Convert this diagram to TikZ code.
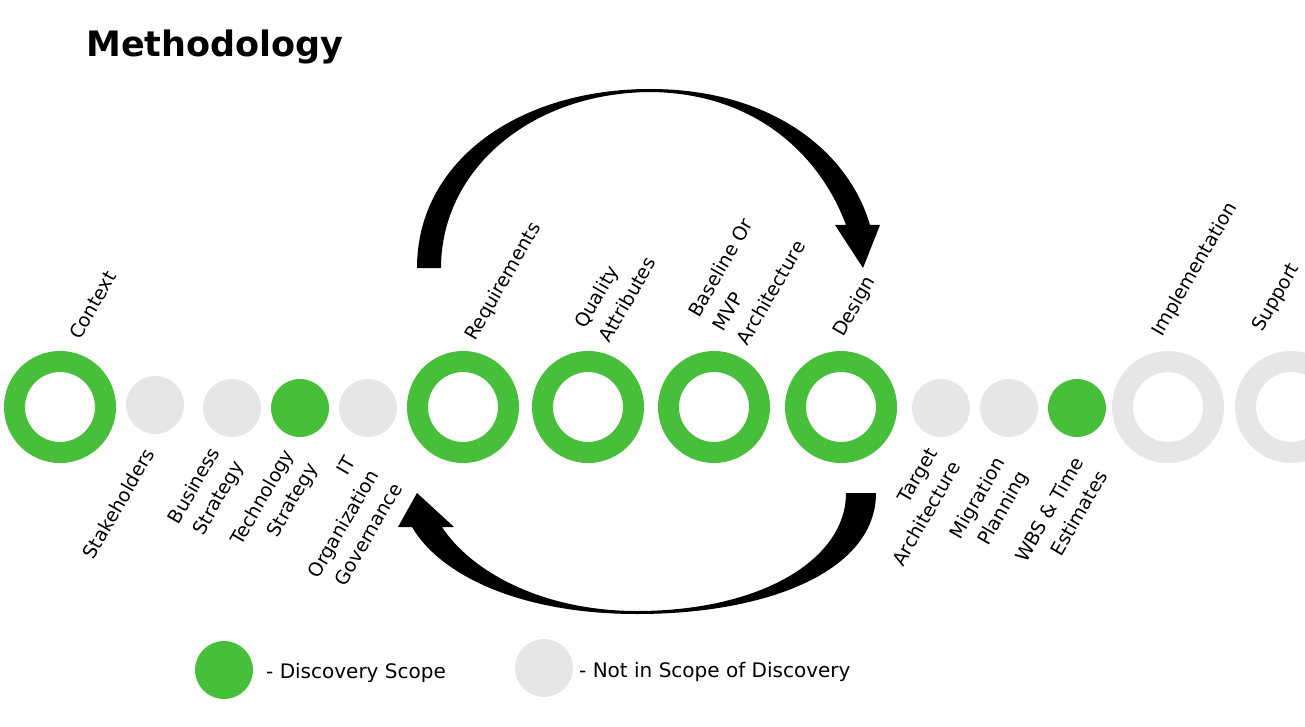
\documentclass[tikz,border=0pt]{standalone}
\usepackage{fontspec}
\setmainfont{DejaVu Sans}
\usepackage{tikz}
\usetikzlibrary{positioning}

\definecolor{scopegreen}{RGB}{72,191,58}
\definecolor{outgrey}{RGB}{230,230,230}

\begin{document}
\begin{tikzpicture}[x=1pt, y=-1pt,
    ring/.style={circle, draw=#1, line width=21pt, minimum size=91pt, inner sep=0pt},
    dot/.style={circle, fill=#1, minimum size=58pt, inner sep=0pt},
    toplbl/.style={rotate=60, inner sep=0pt, align=left, font=\fontsize{19}{28}\selectfont},
    botlbl/.style={rotate=60, anchor=north east, inner sep=0pt, align=right, font=\fontsize{19}{27}\selectfont},
    keytext/.style={anchor=base west, inner sep=0pt, font=\fontsize{20}{24}\selectfont}]
    \useasboundingbox (0,0) rectangle (1305,727);

    \node[anchor=base west, inner sep=0pt, font=\fontsize{35}{40}\selectfont\bfseries] (title) at (86,57) {Methodology};

    \node[ring=scopegreen] (ctx) at (60,407) {};
    \node[dot=outgrey] (stk) at (155,405) {};
    \node[dot=outgrey] (bus) at (232,408) {};
    \node[dot=scopegreen] (tech) at (300,408) {};
    \node[dot=outgrey] (itg) at (368,408) {};
    \node[ring=scopegreen] (req) at (463,407) {};
    \node[ring=scopegreen] (qa) at (588,407) {};
    \node[ring=scopegreen] (base) at (714,407) {};
    \node[ring=scopegreen] (des) at (841,407) {};
    \node[dot=outgrey] (tgt) at (941,408) {};
    \node[dot=outgrey] (mig) at (1009,408) {};
    \node[dot=scopegreen] (wbs) at (1077,408) {};
    \node[ring=outgrey] (impl) at (1168,407) {};
    \node[ring=outgrey] (sup) at (1291,407) {};

    \node[toplbl, anchor=base west] (ctxlbl) at (80,341) {Context};
    \node[toplbl, anchor=base west] (reqlbl) at (475,342) {Requirements};
    \node[toplbl, anchor=south west] (qalbl) at (610,344) {Quality\\Attributes};
    \node[toplbl, anchor=south west] (baselbl) at (748,347) {Baseline Or\\MVP\\Architecture};
    \node[toplbl, anchor=base west] (deslbl) at (843,338) {Design};
    \node[toplbl, anchor=base west] (impllbl) at (1162,338) {Implementation};
    \node[toplbl, anchor=base west] (suplbl) at (1262,333) {Support};

    \node[botlbl] (stklbl) at (143,446) {Stakeholders};
    \node[botlbl] (buslbl) at (208,445) {Business\\Strategy};
    \node[botlbl] (techlbl) at (282,447) {Technology\\Strategy};
    \node[botlbl] (itglbl) at (344,454) {IT\\Organization\\Governance};
    \node[botlbl] (tgtlbl) at (926,446) {Target\\Architecture};
    \node[botlbl] (miglbl) at (993,455) {Migration\\Planning};
    \node[botlbl] (wbslbl) at (1072,455) {WBS \& Time\\Estimates};

    \fill (417,268) .. controls (417,160) and (520,89) .. (650,89)
        .. controls (770,89) and (848,150) .. (870,225) -- (880,225) -- (863,268) -- (835,225) -- (846,225)
        .. controls (822,160) and (760,93) .. (650,92)
        .. controls (530,93) and (441,170) .. (441,268) -- cycle;
    \fill (876,493) .. controls (876,570) and (770,614) .. (637,614)
        .. controls (520,614) and (440,575) .. (412,527) -- (398,527) -- (417,493) -- (454,527) -- (442,527)
        .. controls (470,570) and (540,611) .. (637,611)
        .. controls (760,611) and (846,560) .. (846,493) -- cycle;

    \node[dot=scopegreen] (keyin) at (224,670) {};
    \node[keytext] (keyintxt) at (266,678) {- Discovery Scope};
    \node[dot=outgrey] (keyout) at (544,668) {};
    \node[keytext] (keyouttxt) at (579,677) {- Not in Scope of Discovery};
\end{tikzpicture}
\end{document}
